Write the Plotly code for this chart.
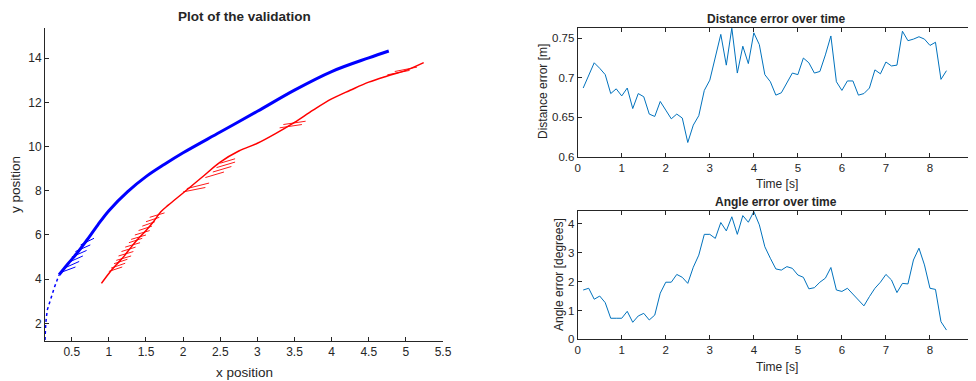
import plotly.graph_objects as go

# ---------------- data ----------------
# trajectory (left plot)
blue_start_x = [0.14, 0.15, 0.17, 0.21, 0.27, 0.33]
blue_start_y = [1.25, 2.0, 2.6, 3.05, 3.66, 4.2]

blue_x = [0.33, 0.45, 0.57, 0.7, 0.85, 1.0, 1.25, 1.5, 1.75, 2.0, 2.5, 3.0, 3.5, 4.0, 4.5, 4.77]
blue_y = [4.2, 4.7, 5.17, 5.75, 6.45, 7.1, 7.95, 8.64, 9.2, 9.72, 10.66, 11.6, 12.56, 13.4, 14.02, 14.33]

red_x = [0.9, 1.0, 1.1, 1.2, 1.3, 1.4, 1.5, 1.6, 1.7, 1.8, 2.0, 2.25, 2.5, 2.75, 3.0, 3.25, 3.5, 3.75, 4.0, 4.25, 4.5, 4.75, 5.0, 5.24]
red_y = [3.81, 4.26, 4.65, 5.02, 5.45, 5.85, 6.2, 6.6, 7.05, 7.35, 7.9, 8.6, 9.3, 9.8, 10.15, 10.6, 11.1, 11.65, 12.16, 12.55, 12.92, 13.2, 13.45, 13.8]

# short estimate segments (start / end points)
red_seg_x0 = [1.00, 1.03, 1.07, 1.10, 1.13, 1.17, 1.22, 1.27, 1.30, 1.35, 1.40, 1.45, 1.50, 1.55,
              2.00, 2.05, 2.30, 2.40, 2.45, 2.50, 3.30, 3.35, 4.75, 4.85]
red_seg_y0 = [4.35, 4.50, 4.70, 4.85, 5.05, 5.25, 5.45, 5.65, 5.80, 6.00, 6.20, 6.40, 6.60, 6.80,
              7.95, 8.10, 8.60, 8.85, 9.05, 9.25, 10.85, 11.00, 13.25, 13.40]
red_seg_x1 = [1.18, 1.22, 1.25, 1.30, 1.33, 1.36, 1.42, 1.45, 1.50, 1.55, 1.58, 1.62, 1.68, 1.75,
              2.30, 2.35, 2.55, 2.65, 2.70, 2.70, 3.60, 3.65, 5.05, 5.15]
red_seg_y1 = [4.55, 4.72, 4.90, 5.05, 5.25, 5.45, 5.65, 5.85, 6.00, 6.20, 6.40, 6.60, 6.80, 7.00,
              8.15, 8.35, 8.85, 9.10, 9.30, 9.45, 11.00, 11.15, 13.45, 13.60]

blue_seg_x0 = [0.35, 0.40, 0.45, 0.50, 0.55, 0.62]
blue_seg_y0 = [4.30, 4.50, 4.75, 5.00, 5.25, 5.55]
blue_seg_x1 = [0.55, 0.60, 0.65, 0.70, 0.75, 0.80]
blue_seg_y1 = [4.55, 4.80, 5.05, 5.30, 5.55, 5.85]

# error over time (right plots)
time_s = [0.125, 0.25, 0.375, 0.5, 0.625, 0.75, 0.875, 1.0, 1.125, 1.25, 1.375, 1.5, 1.625, 1.75,
          1.875, 2.0, 2.125, 2.25, 2.375, 2.5, 2.625, 2.75, 2.875, 3.0, 3.125, 3.25, 3.375, 3.5,
          3.625, 3.75, 3.875, 4.0, 4.125, 4.25, 4.375, 4.5, 4.625, 4.75, 4.875, 5.0, 5.125, 5.25,
          5.375, 5.5, 5.625, 5.75, 5.875, 6.0, 6.125, 6.25, 6.375, 6.5, 6.625, 6.75, 6.875, 7.0,
          7.125, 7.25, 7.375, 7.5, 7.625, 7.75, 7.875, 8.0, 8.125, 8.25, 8.375]

distance_err = [0.687, 0.703, 0.719, 0.712, 0.704, 0.680, 0.686, 0.677, 0.687, 0.661, 0.680, 0.676,
                0.654, 0.651, 0.670, 0.659, 0.648, 0.654, 0.649, 0.618, 0.640, 0.652, 0.684, 0.697,
                0.726, 0.755, 0.716, 0.763, 0.706, 0.740, 0.718, 0.757, 0.742, 0.704, 0.695, 0.678,
                0.681, 0.694, 0.706, 0.704, 0.725, 0.719, 0.706, 0.708, 0.729, 0.753, 0.695, 0.684,
                0.696, 0.696, 0.678, 0.680, 0.687, 0.710, 0.705, 0.720, 0.715, 0.716, 0.759, 0.747,
                0.749, 0.752, 0.749, 0.741, 0.745, 0.698, 0.709]

angle_err = [1.71, 1.77, 1.39, 1.50, 1.27, 0.73, 0.73, 0.73, 0.97, 0.59, 0.81, 0.90, 0.67, 0.84,
             1.60, 1.98, 1.98, 2.25, 2.15, 1.94, 2.50, 2.92, 3.64, 3.64, 3.50, 4.05, 3.76, 4.25,
             3.64, 4.29, 4.06, 4.43, 3.97, 3.21, 2.81, 2.44, 2.40, 2.52, 2.46, 2.23, 2.15, 1.75,
             1.79, 1.98, 2.12, 2.49, 1.71, 1.66, 1.77, 1.57, 1.36, 1.16, 1.48, 1.77, 1.98, 2.25,
             2.06, 1.62, 1.94, 1.92, 2.75, 3.16, 2.58, 1.77, 1.73, 0.61, 0.32]

traj_xticks = [0.5, 1, 1.5, 2, 2.5, 3, 3.5, 4, 4.5, 5, 5.5]
traj_yticks = [2, 4, 6, 8, 10, 12, 14]
time_ticks = [0, 1, 2, 3, 4, 5, 6, 7, 8, 9]
dist_ticks = [0.6, 0.65, 0.7, 0.75]
dist_ticklabels = ["0.6", "0.65", "0.7", "0.75"]
angle_ticks = [0, 1, 2, 3, 4]


def segs(x0, y0, x1, y1):
    xs, ys = [], []
    for a, b, c, d in zip(x0, y0, x1, y1):
        xs += [a, c, None]
        ys += [b, d, None]
    return xs, ys


BLUE = "#0000FF"
RED = "#FF0000"
LINE = "#0072BD"
AX = "#262626"
FONT = "Liberation Sans, Arial, sans-serif"

fig = go.Figure()

# left plot traces
fig.add_trace(go.Scatter(x=blue_start_x, y=blue_start_y, mode="lines",
                         line=dict(color=BLUE, width=1.5, dash="dot"),
                         xaxis="x", yaxis="y", showlegend=False))
fig.add_trace(go.Scatter(x=blue_x, y=blue_y, mode="lines",
                         line=dict(color=BLUE, width=3, shape="spline"),
                         xaxis="x", yaxis="y", showlegend=False))
bx, by = segs(blue_seg_x0, blue_seg_y0, blue_seg_x1, blue_seg_y1)
fig.add_trace(go.Scatter(x=bx, y=by, mode="lines", line=dict(color=BLUE, width=1),
                         xaxis="x", yaxis="y", showlegend=False))
fig.add_trace(go.Scatter(x=red_x, y=red_y, mode="lines",
                         line=dict(color=RED, width=1.5, shape="spline"),
                         xaxis="x", yaxis="y", showlegend=False))
rx, ry = segs(red_seg_x0, red_seg_y0, red_seg_x1, red_seg_y1)
fig.add_trace(go.Scatter(x=rx, y=ry, mode="lines", line=dict(color=RED, width=0.9),
                         xaxis="x", yaxis="y", showlegend=False))

# right plots
fig.add_trace(go.Scatter(x=time_s, y=distance_err, mode="lines",
                         line=dict(color=LINE, width=1),
                         xaxis="x2", yaxis="y2", showlegend=False))
fig.add_trace(go.Scatter(x=time_s, y=angle_err, mode="lines",
                         line=dict(color=LINE, width=1),
                         xaxis="x3", yaxis="y3", showlegend=False))

# page body has an 8px margin; work in window pixel coordinates
OX, OY = 8, 8
W, H = 968, 373


def px(v):
    return (v - OX) / W


def py(v):
    return 1 - (v - OY) / H


def axstyle(size):
    return dict(showgrid=False, zeroline=False, showline=True, linecolor=AX, linewidth=1,
                ticks="inside", ticklen=4, tickcolor=AX, automargin=False,
                tickfont=dict(family=FONT, size=size, color=AX))


fig.update_layout(
    width=W, height=H,
    margin=dict(l=0, r=0, t=0, b=0, pad=0),
    paper_bgcolor="white", plot_bgcolor="white",
    font=dict(family=FONT, color=AX),
    xaxis=dict(domain=[px(45), px(443)], range=[0.14, 5.5], tickvals=traj_xticks,
               anchor="y", **axstyle(12)),
    yaxis=dict(domain=[py(341), py(28)], range=[1.2, 15.37], tickvals=traj_yticks,
               anchor="x", **axstyle(12)),
    xaxis2=dict(domain=[px(577.7), px(974)], range=[0, 9], tickvals=time_ticks,
                anchor="y2", mirror="ticks", **axstyle(11.5)),
    yaxis2=dict(domain=[py(156.7), py(28.3)], range=[0.6, 0.7627], tickvals=dist_ticks,
                ticktext=dist_ticklabels, anchor="x2", mirror="ticks", **axstyle(11.5)),
    xaxis3=dict(domain=[px(577.7), px(974)], range=[0, 9], tickvals=time_ticks,
                anchor="y3", mirror="ticks", **axstyle(11.5)),
    yaxis3=dict(domain=[py(339.3), py(211)], range=[0, 4.45], tickvals=angle_ticks,
                anchor="x3", mirror="ticks", **axstyle(11.5)),
)

annots = [
    dict(text="<b>Plot of the validation</b>", x=px(244), y=py(16), size=13.5, angle=0),
    dict(text="x position", x=px(244), y=py(372), size=13.5, angle=0),
    dict(text="y position", x=px(15), y=py(185), size=13.5, angle=-90),
    dict(text="<b>Distance error over time</b>", x=px(776), y=py(19), size=12, angle=0),
    dict(text="Time [s]", x=px(777), y=py(184), size=12, angle=0),
    dict(text="Distance error [m]", x=px(543), y=py(92), size=12, angle=-90),
    dict(text="<b>Angle error over time</b>", x=px(776), y=py(202), size=12, angle=0),
    dict(text="Time [s]", x=px(777), y=py(367), size=12, angle=0),
    dict(text="Angle error [degrees]", x=px(559), y=py(275), size=12, angle=-90),
]
for a in annots:
    fig.add_annotation(text=a["text"], x=a["x"], y=a["y"], xref="paper", yref="paper",
                       xanchor="center", yanchor="middle", showarrow=False,
                       textangle=a["angle"], font=dict(family=FONT, size=a["size"], color=AX))

fig.write_html("out.html")
